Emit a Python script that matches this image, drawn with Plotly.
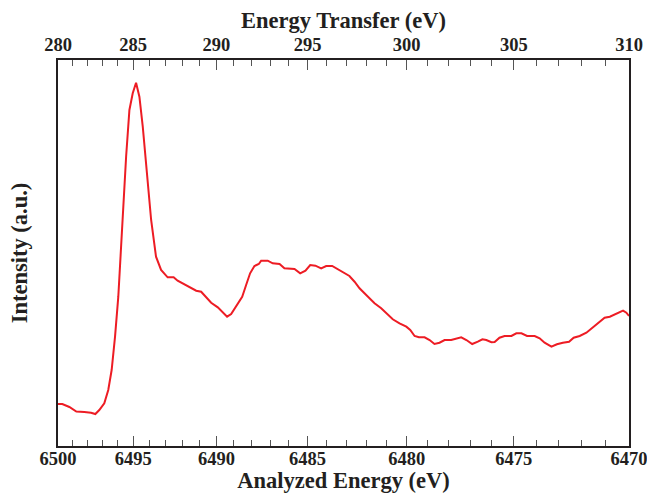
import numpy as np
import plotly.graph_objects as go

# Energy transfer (eV) and intensity (a.u.)
transfer = [280.00, 280.30, 280.79, 281.27, 281.81, 282.26, 282.55, 282.81, 283.14, 283.40,
            283.62, 283.84, 284.05, 284.23, 284.39, 284.55, 284.76, 284.97, 285.18, 285.39,
            285.60, 285.81, 286.12, 286.42, 286.73, 287.13, 287.49, 287.73, 288.03, 288.43,
            288.83, 289.12, 289.41, 289.70, 290.08, 290.36, 290.61, 290.84, 291.12, 291.46,
            291.68, 291.90, 292.14, 292.38, 292.51, 292.87, 293.14, 293.51, 293.77, 294.31,
            294.61, 294.89, 295.14, 295.41, 295.71, 295.97, 296.28, 296.57, 296.82, 297.16,
            297.42, 297.67, 297.92, 298.17, 298.42, 298.75, 299.08, 299.32, 299.65, 299.98,
            300.17, 300.38, 300.59, 300.86, 301.10, 301.33, 301.57, 301.81, 302.12, 302.36,
            302.59, 302.83, 303.10, 303.36, 303.57, 303.75, 303.98, 304.13, 304.35, 304.58,
            304.89, 305.11, 305.34, 305.59, 305.93, 306.15, 306.37, 306.67, 306.91, 307.17,
            307.44, 307.64, 307.90, 308.19, 308.47, 308.76, 308.97, 309.19, 309.44, 309.61,
            309.75, 309.89, 310.00]
intensity = [10.88, 10.88, 10.10, 8.94, 8.81, 8.63, 8.29, 9.33, 11.06, 14.51,
             19.69, 28.32, 38.68, 52.51, 64.59, 74.95, 87.05, 91.37, 94.12, 90.49,
             82.72, 72.36, 58.55, 49.04, 45.60, 43.70, 43.70, 42.82, 42.15, 41.11,
             40.23, 39.97, 38.68, 37.12, 35.93, 34.53, 33.50, 34.20, 36.09, 38.68,
             41.71, 44.74, 46.63, 47.15, 48.01, 48.01, 47.33, 47.15, 46.04, 45.85,
             44.74, 45.41, 46.89, 46.71, 46.04, 46.63, 46.63, 45.78, 45.16, 44.04,
             42.56, 40.86, 39.56, 38.26, 36.97, 35.67, 33.94, 32.82, 31.79, 30.91,
             30.05, 28.50, 28.16, 28.16, 27.46, 26.42, 26.76, 27.46, 27.46, 27.90,
             28.16, 27.46, 26.42, 27.02, 27.64, 27.46, 26.87, 26.94, 28.06, 28.50,
             28.50, 29.20, 29.20, 28.50, 28.50, 27.90, 26.76, 25.73, 26.35, 26.76,
             27.02, 28.06, 28.50, 29.35, 30.75, 32.20, 33.24, 33.50, 34.20, 34.79,
             35.05, 34.53, 33.68]

top_ticks = [280, 285, 290, 295, 300, 305, 310]
bottom_ticks = [6500, 6495, 6490, 6485, 6480, 6475, 6470]
minor_transfer = [t for t in range(280, 311) if t % 5 != 0]


def axis_pos(t):
    # the original figure's energy axis is non-uniform (quadratic stretch)
    d = np.asarray(t, dtype=float) - 280.0
    return 14.232 * d + 0.1596 * d ** 2


xpos = axis_pos(transfer)
major_pos = axis_pos(top_ticks).tolist()
minor_pos = axis_pos(minor_transfer).tolist()
xr = [float(axis_pos(280)), float(axis_pos(310))]

FONT = "Liberation Serif, Times New Roman, serif"
tickfont = dict(family=FONT, size=18.5, color="#231f20", weight=700)
titlefont = dict(family=FONT, size=22.5, color="#231f20", weight=700)

fig = go.Figure()
fig.add_trace(go.Scatter(x=xpos, y=intensity, mode="lines",
                         line=dict(color="#ed1c24", width=2), showlegend=False,
                         hoverinfo="skip"))
fig.add_trace(go.Scatter(x=xpos, y=intensity, mode="lines", xaxis="x2",
                         line=dict(color="rgba(0,0,0,0)", width=0), showlegend=False,
                         hoverinfo="skip"))

common = dict(range=xr, tickmode="array", tickvals=major_pos, ticks="inside",
              ticklen=10, tickwidth=1.3, tickcolor="#555555",
              showline=True, linecolor="#231f20", linewidth=1.6,
              showgrid=False, zeroline=False, tickfont=tickfont, automargin=False,
              ticklabeloverflow="allow",
              minor=dict(tickmode="array", tickvals=minor_pos, ticks="inside",
                         ticklen=6, tickwidth=1.2, tickcolor="#555555"))

fig.update_layout(
    width=647, height=493,
    margin=dict(l=58, r=18, t=60, b=47),
    paper_bgcolor="white", plot_bgcolor="white",
    xaxis=dict(ticktext=[str(v) for v in bottom_ticks], ticklabelstandoff=-5,
               title=dict(text="Analyzed Energy (eV)", font=titlefont, standoff=16),
               **common),
    xaxis2=dict(overlaying="x", side="top", ticktext=[str(v) for v in top_ticks],
                title=dict(text="Energy Transfer (eV)", font=titlefont, standoff=0),
                **common),
    yaxis=dict(range=[0, 100], showticklabels=False, ticks="", showgrid=False,
               zeroline=False, showline=True, mirror=True, linecolor="#231f20",
               linewidth=2, automargin=False,
               title=dict(text="Intensity (a.u.)", font=titlefont, standoff=22)),
)

fig.write_html("out.html")
